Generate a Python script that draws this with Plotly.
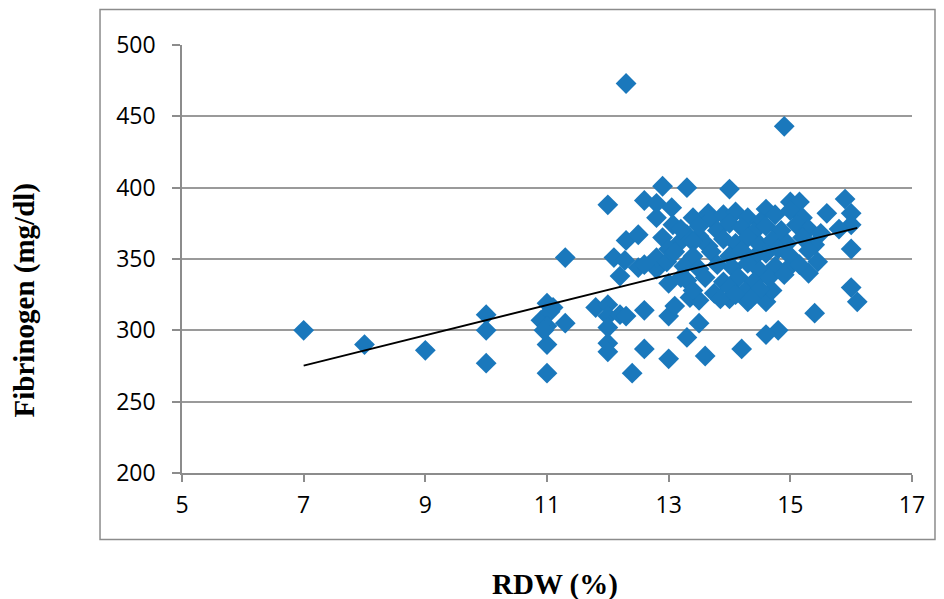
import plotly.graph_objects as go

# --- data ---
RDW_SPARSE = [7, 8, 9, 10, 10, 10,
              10.9, 11.0, 11.05, 11.1, 11.0, 11.0, 11.0, 11.3, 11.3, 10.95,
              11.8, 12.0, 12.0, 12.2, 12.3, 12.6, 12.0, 12.0, 12.0, 12.6, 12.4,
              13.0, 13.3, 13.5, 13.6, 13.0, 13.1, 13.35, 13.5,
              12.2, 12.5, 12.8, 13.0, 13.2,
              12.0, 12.9, 13.3, 12.6, 12.8, 12.3, 12.5, 12.1, 12.28, 12.8, 12.9, 12.8,
              13.05, 13.07, 13.4, 13.65, 13.3, 13.5, 13.14, 12.97, 12.6, 13.0,
              12.3, 14.9,
              16.0, 16.1, 15.4, 14.8, 14.6, 14.2, 14.0, 14.3, 14.6, 14.7, 15.3,
              14.0, 15.9, 16.0, 16.0, 15.8, 16.0, 15.6, 14.6, 15.0, 15.15]
FIB_SPARSE = [300, 290, 286, 311, 300, 277,
              307, 319, 313, 316, 303, 290, 270, 351, 305, 300,
              316, 318, 310, 311, 310, 314, 302, 291, 285, 287, 270,
              280, 295, 305, 282, 310, 317, 323, 321,
              338, 344, 343, 333, 337,
              388, 401, 400, 391, 389, 363, 367, 351, 349, 351, 365, 379,
              386, 374, 379, 382, 367, 366, 360, 348, 346, 357,
              473, 443,
              330, 320, 312, 300, 297, 287, 322, 320, 320, 328, 340,
              399, 392, 382, 374, 371, 357, 382, 385, 390, 390]

RDW_DENSE = [13.7, 13.9, 14.1, 14.3, 14.5, 14.75, 15.0, 15.2,
             13.2, 13.5, 13.8, 14.0, 14.2, 14.4, 14.6, 14.85, 15.1, 15.3,
             13.4, 13.65, 13.9, 14.1, 14.3, 14.5, 14.7, 14.95, 15.2, 15.4,
             13.1, 13.4, 13.7, 14.0, 14.2, 14.4, 14.6, 14.8, 15.0, 15.3,
             13.25, 13.5, 13.8, 14.05, 14.3, 14.5, 14.75, 14.95, 15.15,
             13.3, 13.6, 13.9, 14.15, 14.4, 14.65, 14.9,
             13.4, 13.75, 14.0, 14.25, 14.5,
             15.45, 15.5, 13.85, 14.1, 14.35]
FIB_DENSE = [378, 381, 383, 379, 376, 381, 384, 379,
             371, 373, 370, 375, 372, 369, 373, 370, 374, 371,
             362, 359, 364, 361, 365, 360, 363, 361, 365, 360,
             355, 352, 355, 352, 356, 351, 354, 357, 352, 356,
             345, 343, 346, 344, 347, 342, 345, 343, 346,
             335, 337, 334, 337, 334, 337, 339,
             328, 326, 330, 327, 329,
             348, 368, 322, 325, 322]

# linear trend (as drawn in the reference)
TREND_INTERCEPT = 201.1
TREND_SLOPE = 10.6
TREND_X = [7.0, 16.1]

X_TICKS = [5, 7, 9, 11, 13, 15, 17]
Y_TICKS = [200, 250, 300, 350, 400, 450, 500]
X_TITLE = "RDW (%)"
Y_TITLE = "Fibrinogen (mg/dl)"

rdw = RDW_SPARSE + RDW_DENSE
fib = FIB_SPARSE + FIB_DENSE
trend_y = [TREND_INTERCEPT + TREND_SLOPE * x for x in TREND_X]

fig = go.Figure()
fig.add_trace(go.Scatter(
    x=rdw, y=fib, mode="markers",
    marker=dict(symbol="diamond", size=16, color="#1A78BC", line=dict(width=0)),
    showlegend=False, hoverinfo="x+y"))
fig.add_trace(go.Scatter(
    x=TREND_X, y=trend_y, mode="lines",
    line=dict(color="black", width=1.8), showlegend=False, hoverinfo="skip"))

tick_font = dict(family="Open Sans, sans-serif", size=23, color="black")
title_font = dict(family="Liberation Serif, Times New Roman, serif", size=29, color="black")

fig.update_layout(
    width=944, height=599,
    margin=dict(l=182, r=32, t=45, b=125.5),
    paper_bgcolor="white", plot_bgcolor="white",
    xaxis=dict(range=[5, 17], tickvals=X_TICKS, ticktext=[str(v) for v in X_TICKS],
               showgrid=False, zeroline=False, showline=True, linecolor="#8C8C8C", linewidth=1.5,
               ticks="outside", ticklen=7, tickcolor="#8C8C8C", tickwidth=1.5,
               tickfont=tick_font, ticklabelstandoff=4, automargin=False),
    yaxis=dict(range=[200, 500], tickvals=Y_TICKS, ticktext=[str(v) for v in Y_TICKS],
               showgrid=True, gridcolor="#9A9A9A", gridwidth=1.5,
               zeroline=False, showline=True, linecolor="#8C8C8C", linewidth=1.5,
               ticks="outside", ticklen=8, tickcolor="#8C8C8C", tickwidth=1.5,
               tickfont=tick_font, ticklabelstandoff=12, automargin=False),
    annotations=[
        dict(text="<b>" + X_TITLE + "</b>", xref="paper", yref="paper", x=0.511, y=-0.2605,
             xanchor="center", yanchor="middle", showarrow=False, font=title_font),
        dict(text="<b>" + Y_TITLE + "</b>", xref="paper", yref="paper", x=-0.216, y=0.404,
             xanchor="center", yanchor="middle", showarrow=False, font=title_font, textangle=-90),
    ],
    shapes=[dict(type="rect", xref="paper", yref="paper",
                 x0=-0.1123, x1=1.0315, y0=-0.1554, y1=1.083,
                 line=dict(color="#8C8C8C", width=1.5), fillcolor="rgba(0,0,0,0)", layer="below")],
)

fig.write_html("out.html", config={"displayModeBar": False},
               post_script="document.body.style.margin='0px';document.body.style.overflow='hidden';")
